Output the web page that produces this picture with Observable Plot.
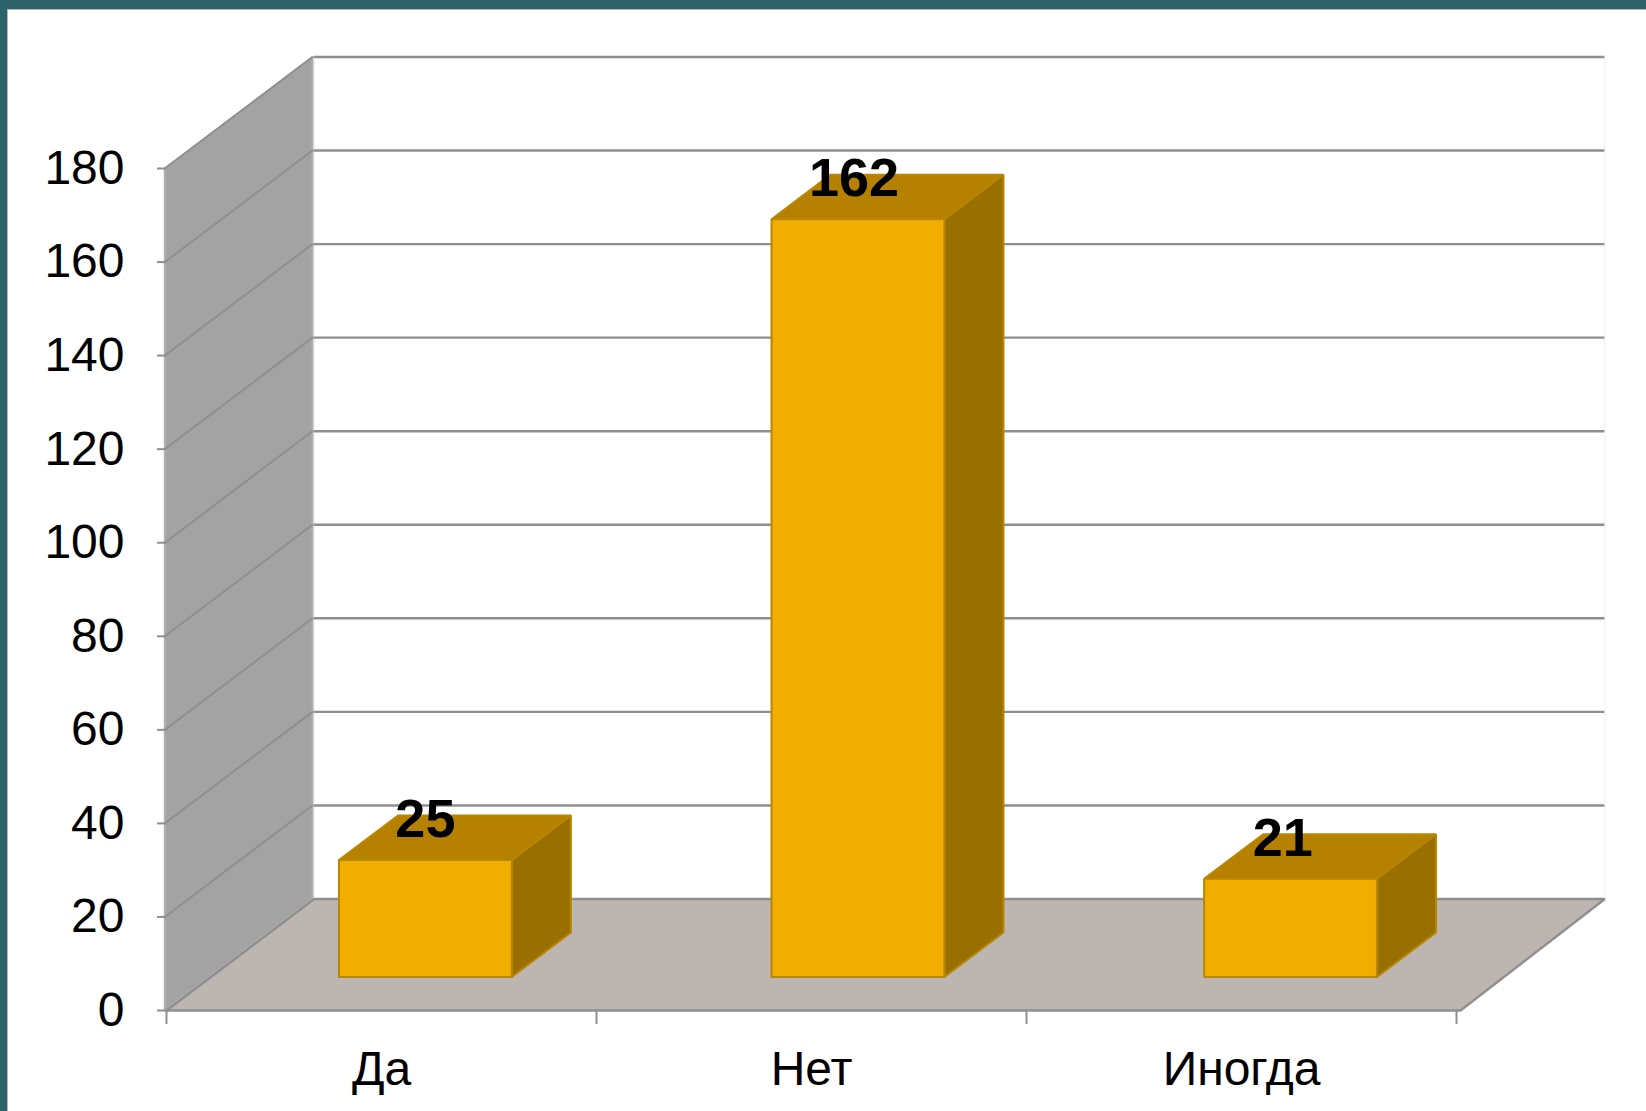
<!DOCTYPE html>
<html>
<head>
<meta charset="utf-8">
<script src="https://cdn.jsdelivr.net/npm/d3@7"></script>
<script src="https://cdn.jsdelivr.net/npm/@observablehq/plot@0.6"></script>
<style>
  html, body { margin: 0; padding: 0; background: #fff; overflow: hidden; }
  #frame { position: absolute; left: 0; top: 0; width: 1646px; height: 1111px; box-sizing: border-box;
           border-left: 7px solid #2a6369; border-top: 9px solid #2a6369; pointer-events: none; }
  #inner { position: absolute; left: 0; top: 0; right: 0; bottom: 0; border-left: 1px solid #b5b5b5; border-top: 1px solid #b5b5b5; }
  #chart { position: absolute; left: 0; top: 0; }
  svg { display: block; }
</style>
</head>
<body>
<div id="chart"></div>
<div id="frame"><div id="inner"></div></div>
<script>
const categories = ["Да", "Нет", "Иногда"];
const values = [25, 162, 21];
const yTicks = [0, 20, 40, 60, 80, 100, 120, 140, 160, 180];
const xTicks = [0, 1, 2, 3];

const wallColor = "#a3a3a3", floorColor = "#bdb5af", lineColor = "#8f8f8f";
const frontColor = "#f1ae00", topColor = "#b78100", sideColor = "#997000", edgeColor = "#b98600";

// Oblique projection of the 3D box into the x (category) and y (value) data units
const depthX = 0.3435, depthY = 23.84, yMax = 180;
const wallX = -0.004, floorEnd = 3.0093, backEnd = 3.345;
const barFront = 0.30, barBack = 0.70, barWidth = 0.402;
const at = (x, y, d = 0) => ({x: x + d * depthX, y: y + d * depthY});
const poly = (pts, fill, stroke = lineColor, strokeWidth = 2) =>
  Plot.line(pts, {x: "x", y: "y", fill, stroke, strokeWidth, curve: "linear-closed", strokeLinejoin: "miter"});

const bars = values.flatMap((v, i) => {
  const a = i * 1.006 + 0.298, b = a + barWidth;
  return [
    poly([at(a, v, barFront), at(a, v, barBack), at(b, v, barBack), at(b, v, barFront)], topColor, edgeColor),
    poly([at(b, 0, barFront), at(b, 0, barBack), at(b, v, barBack), at(b, v, barFront)], sideColor, edgeColor),
    poly([at(a, 0, barFront), at(b, 0, barFront), at(b, v, barFront), at(a, v, barFront)], frontColor, edgeColor)
  ];
});

const chart = Plot.plot({
  width: 1646, height: 1111,
  marginLeft: 166, marginRight: 190, marginTop: 168, marginBottom: 101,
  style: {fontFamily: "'Liberation Sans', Arial, sans-serif", background: "transparent", color: "#000"},
  x: {domain: [0, 3], label: null},
  y: {domain: [0, yMax], label: null},
  marks: [
    // back wall
    poly([{x: depthX, y: depthY}, {x: depthX, y: yMax + depthY}, {x: backEnd, y: yMax + depthY}, {x: backEnd, y: depthY}], "#fff", "#eeeeee", 1),
    // left wall
    poly([at(wallX, 0), at(wallX, yMax), at(wallX, yMax, 1), at(wallX, 0, 1)], wallColor, "#b0b0b0", 2),
    // floor
    poly([at(0, 0), {x: floorEnd, y: 0}, {x: backEnd, y: depthY}, at(0, 0, 1)], floorColor, lineColor, 2.4),
    // grid on the left wall
    ...yTicks.filter(t => t > 0).map(t => Plot.line([at(wallX, t), at(wallX, t, 1)], {x: "x", y: "y", stroke: lineColor, strokeWidth: 2})),
    // grid on the back wall
    Plot.ruleY(yTicks.filter(t => t > 0), {y: d => d + depthY, x1: depthX, x2: backEnd, stroke: lineColor, strokeWidth: 2.4}),
    Plot.axisY({ticks: yTicks, tickSize: 9, tickPadding: 33, fontSize: 48, label: null, stroke: lineColor, strokeWidth: 2, fill: "#000"}),
    Plot.axisX({ticks: xTicks, tickSize: 14, tickFormat: () => "", label: null, stroke: lineColor, strokeWidth: 2}),
    ...bars,
    Plot.text(categories, {x: (d, i) => i + 0.5, y: () => 0, text: d => d, fontSize: 48, fill: "#000", textAnchor: "middle", lineAnchor: "bottom", dy: 74}),
    Plot.text(values, {x: (d, i) => i * 0.997 + 0.499 + barFront * depthX, y: d => d, text: d => String(d), fontSize: 54, fontWeight: "bold", fill: "#000", textAnchor: "middle", lineAnchor: "bottom", dy: -(barFront * depthY * 842 / yMax) - 23})
  ]
});
document.getElementById("chart").appendChild(chart);
</script>
</body>
</html>
